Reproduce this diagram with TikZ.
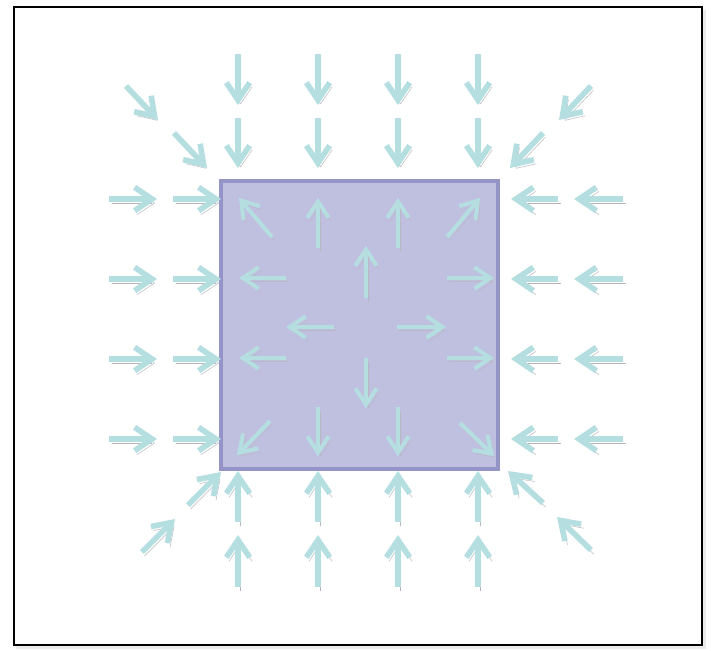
\documentclass[tikz,border=0pt]{standalone}
\usetikzlibrary{arrows.meta}
\definecolor{flowcol}{RGB}{180,222,224}
\definecolor{shadowcol}{RGB}{182,182,186}
\definecolor{boxfill}{RGB}{191,192,224}
\definecolor{boxline}{RGB}{148,148,198}
\begin{document}
\begin{tikzpicture}[
  x=0.03cm, y=-0.03cm,
  flow/.style   = {draw=flowcol, line width=4.8pt, line cap=butt,
                   -{Straight Barb[length=5.2mm, width=7mm]},
                   preaction={draw=shadowcol, transform canvas={shift={(2.2pt,-3.4pt)}}}},
  flowin/.style = {draw=flowcol, line width=3.4pt, line cap=butt,
                   -{Straight Barb[length=4.8mm, width=6.4mm]},
                   preaction={draw=shadowcol!80!boxfill, transform canvas={shift={(2pt,-3pt)}}}},
  region/.style = {draw=boxline, line width=3pt, fill=boxfill},
  frame/.style  = {draw=black, line width=1.8pt},
]
\useasboundingbox (0,0) rectangle (711,650);

% ---------- outer frame ----------
\fill[black!8] (16,10) rectangle (706,649);
\fill[white] (14,7) rectangle (702,645);
\draw[frame] (14,7) rectangle (702,645);

% ---------- the region ----------
\draw[region] (221,181) rectangle (498,469);

% ---------- inflow from above and below ----------
\foreach \x in {238,318,398,478}{
  \draw[flow] (\x,54)  -- (\x,105);
  \draw[flow] (\x,118) -- (\x,168);
  \draw[flow] (\x,522) -- (\x,471);
  \draw[flow] (\x,587) -- (\x,535);
}

% ---------- inflow from left and right ----------
\foreach \y in {199,279,359,439}{
  \draw[flow] (109,\y) -- (157,\y);
  \draw[flow] (173,\y) -- (221,\y);
  \draw[flow] (558,\y) -- (511,\y);
  \draw[flow] (623,\y) -- (574,\y);
}

% ---------- corner inflow ----------
\draw[flow] (126,86)  -- (158,120);
\draw[flow] (174,133) -- (207,168);
\draw[flow] (591,86)  -- (559,120);
\draw[flow] (543,133) -- (510,168);
\draw[flow] (142,552) -- (175,519);
\draw[flow] (188,505) -- (221,472);
\draw[flow] (543,503) -- (508,471);
\draw[flow] (591,550) -- (557,517);

% ---------- outflow inside the region ----------
\draw[flowin] (272,237) -- (239,198);
\draw[flowin] (447,237) -- (480,198);
\draw[flowin] (270,421) -- (237,455);
\draw[flowin] (460,423) -- (494,456);
\foreach \x in {318,398}{
  \draw[flowin] (\x,248) -- (\x,198);
  \draw[flowin] (\x,407) -- (\x,456);
}
\foreach \y in {278,358}{
  \draw[flowin] (286,\y) -- (239,\y);
  \draw[flowin] (447,\y) -- (494,\y);
}
\draw[flowin] (366,298) -- (366,246);
\draw[flowin] (366,358) -- (366,408);
\draw[flowin] (334,327) -- (286,327);
\draw[flowin] (397,327) -- (446,327);

\end{tikzpicture}
\end{document}
